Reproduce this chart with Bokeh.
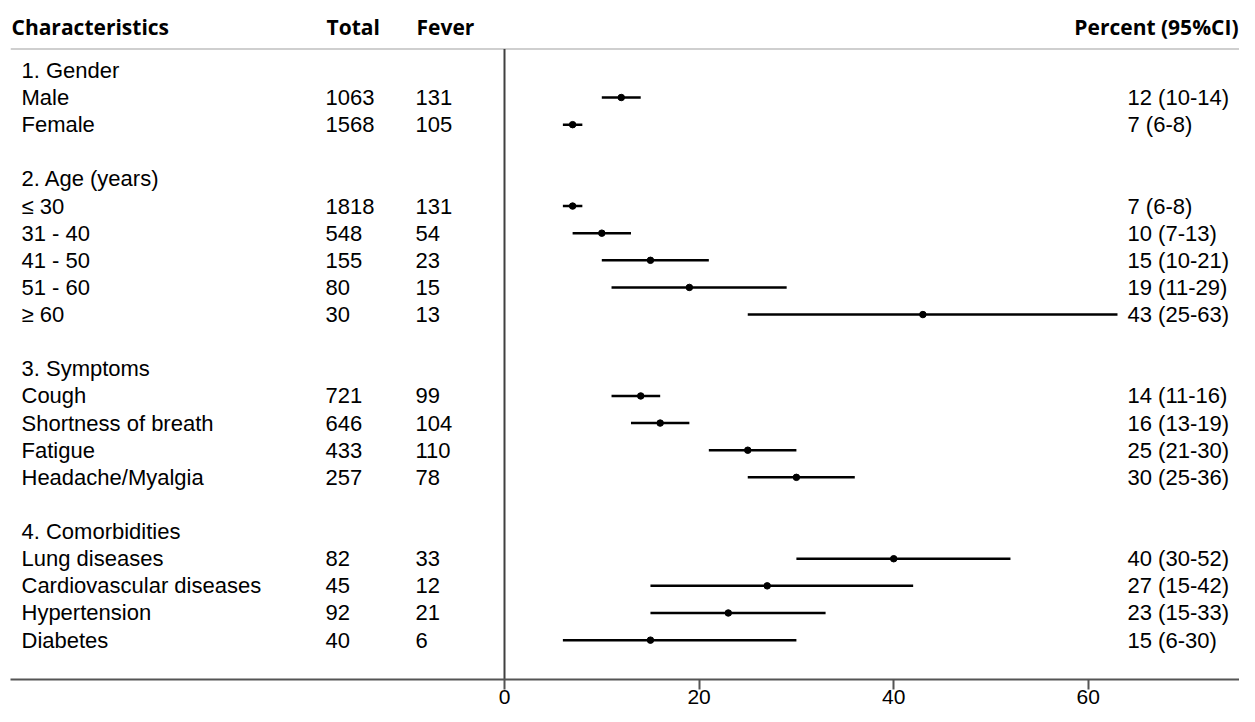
from bokeh.plotting import figure
from bokeh.models import Range1d, FixedTicker, ColumnDataSource
from bokeh.core.properties import value
from bokeh.embed import file_html
from bokeh.resources import INLINE

# ---------------- data ----------------
groups = ["1. Gender", "2. Age (years)", "3. Symptoms", "4. Comorbidities"]
labels = ["Male", "Female", "≤ 30", "31 - 40", "41 - 50", "51 - 60", "≥ 60",
          "Cough", "Shortness of breath", "Fatigue", "Headache/Myalgia",
          "Lung diseases", "Cardiovascular diseases", "Hypertension", "Diabetes"]
group_of = [0, 0, 1, 1, 1, 1, 1, 2, 2, 2, 2, 3, 3, 3, 3]
total = [1063, 1568, 1818, 548, 155, 80, 30, 721, 646, 433, 257, 82, 45, 92, 40]
fever = [131, 105, 131, 54, 23, 15, 13, 99, 104, 110, 78, 33, 12, 21, 6]
pct = [12, 7, 7, 10, 15, 19, 43, 14, 16, 25, 30, 40, 27, 23, 15]
lo = [10, 6, 6, 7, 10, 11, 25, 11, 13, 21, 25, 30, 15, 15, 6]
hi = [14, 8, 8, 13, 21, 29, 63, 16, 19, 30, 36, 52, 42, 33, 30]
headers = ["Characteristics", "Total", "Fever", "Percent (95%CI)"]
ticks = [0, 20, 40, 60]

# ---------------- row layout ----------------
group_rows, item_rows = [], []
r = 0
for g in range(len(groups)):
    group_rows.append(r)
    r += 1
    for i, gi in enumerate(group_of):
        if gi == g:
            item_rows.append(r)
            r += 1
    r += 1

# pixel geometry (layout only), in figure pixel coordinates
W, H = 1239, 706
PX0 = 504.0          # x pixel of value 0
PXU = 9.73           # pixels per unit
ROW0 = 70.0          # y pixel of first row
ROWH = 27.17         # row pitch
FRAME_L, FRAME_R = 10.0, float(W)
FRAME_T, FRAME_B = 0.0, 680.0

def xv(px):
    return (px - PX0) / PXU

def yv(py):
    return (py - ROW0) / ROWH

p = figure(width=W, height=H, output_backend="svg", toolbar_location=None,
           x_range=Range1d(xv(FRAME_L), xv(FRAME_R)),
           y_range=Range1d(yv(FRAME_B), yv(FRAME_T)),
           min_border_left=int(FRAME_L), min_border_right=0, min_border_top=0,
           min_border_bottom=0)
p.outline_line_color = None
p.xgrid.visible = False
p.ygrid.visible = False
p.yaxis.visible = False
p.background_fill_color = "white"
p.border_fill_color = "white"

ax = p.xaxis[0]
ax.ticker = FixedTicker(ticks=ticks)
ax.axis_line_color = "#555555"
ax.axis_line_width = 2
ax.major_tick_line_color = "#555555"
ax.major_tick_line_width = 2
ax.major_tick_out = 10
ax.major_tick_in = 0
ax.minor_tick_out = 0
ax.minor_tick_in = 0
ax.major_label_standoff = 0
ax.major_label_text_font = "Liberation Sans"
ax.major_label_text_font_size = "21px"
ax.major_label_text_color = "black"

# header separator and vertical zero line
hy = yv(48.5)
p.segment(x0=[xv(FRAME_L)], y0=[hy], x1=[xv(FRAME_R)], y1=[hy],
          line_color="#cfcfcf", line_width=2)
p.segment(x0=[0], y0=[hy], x1=[0], y1=[yv(FRAME_B)],
          line_color="#404040", line_width=2)

# header texts
hdr_y = yv(27)
p.text(x=[xv(11), xv(326), xv(416)], y=[hdr_y] * 3, text=headers[:3],
       text_font=value("Open Sans"), text_font_style="bold",
       text_font_size="21px", text_baseline="middle", text_align="left",
       text_color="black")
p.text(x=[xv(1238)], y=[hdr_y], text=[headers[3]],
       text_font=value("Open Sans"), text_font_style="bold",
       text_font_size="21px", text_baseline="middle", text_align="right",
       text_color="black")

body = dict(text_font=value("Liberation Sans"), text_font_size="22px",
            text_baseline="middle", text_align="left", text_color="black")

# group titles
p.text(x=[xv(21)] * len(groups), y=group_rows, text=groups, **body)

src = ColumnDataSource(dict(
    y=item_rows, label=labels,
    total=[str(t) for t in total], fever=[str(f) for f in fever],
    pct=pct, lo=lo, hi=hi,
    ci=[f"{a} ({b}-{c})" for a, b, c in zip(pct, lo, hi)],
    xl=[xv(21)] * len(labels), xt=[xv(325)] * len(labels),
    xf=[xv(415)] * len(labels), xc=[xv(1127)] * len(labels),
))
p.text(x="xl", y="y", text="label", source=src, **body)
p.text(x="xt", y="y", text="total", source=src, **body)
p.text(x="xf", y="y", text="fever", source=src, **body)
p.text(x="xc", y="y", text="ci", source=src, **body)

p.segment(x0="lo", y0="y", x1="hi", y1="y", source=src,
          line_color="black", line_width=2.5)
p.scatter(x="pct", y="y", source=src, size=6.5, marker="circle",
          fill_color="black", line_color="black")

open("out.html", "w").write(file_html(p, INLINE))
